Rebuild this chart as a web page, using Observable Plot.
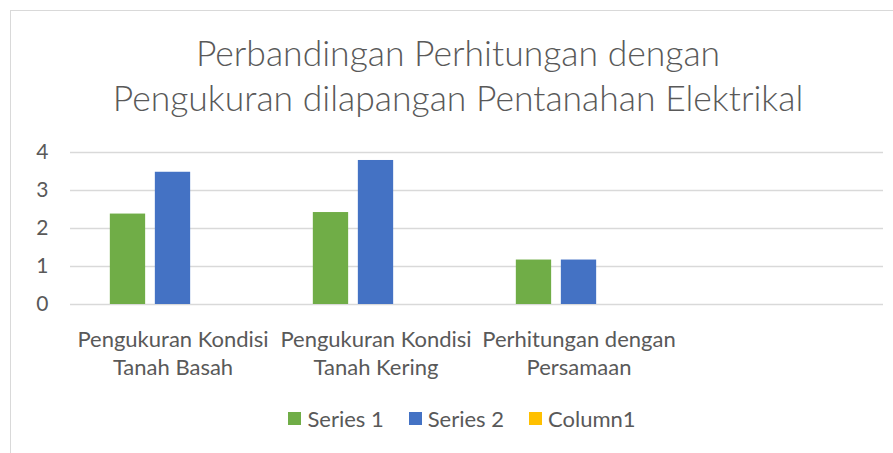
<!DOCTYPE html>
<html>
<head>
<meta charset="utf-8">
<script src="https://cdn.jsdelivr.net/npm/d3@7"></script>
<script src="https://cdn.jsdelivr.net/npm/@observablehq/plot@0.6"></script>
<style>
  html, body { margin: 0; padding: 0; background: #fff; }
  #wrap { position: relative; width: 893px; height: 453px; overflow: hidden; font-family: Lato, "Open Sans", sans-serif; color: #595959; }
  #frame { position: absolute; left: 10px; top: 10px; width: 900px; height: 460px; border-left: 1.5px solid #d9d9d9; border-top: 1.5px solid #d9d9d9; box-sizing: border-box; }
  #title { position: absolute; left: 0; width: 916px; top: 30px; text-align: center; font-size: 35.5px; font-weight: 300; line-height: 45px; }
  #chart { position: absolute; left: 0; top: 130px; }
  #legend { position: absolute; left: 0; width: 924px; top: 403px; height: 30px; display: flex; align-items: center; justify-content: center; gap: 25px; font-size: 22px; }
  #legend .item { display: flex; align-items: center; gap: 6px; }
  #legend .sw { width: 13px; height: 13px; display: inline-block; }
</style>
</head>
<body>
<div id="wrap">
  <div id="frame"></div>
  <div id="title">Perbandingan Perhitungan dengan<br>Pengukuran dilapangan Pentanahan Elektrikal</div>
  <div id="chart"></div>
  <div id="legend"></div>
</div>
<script>
const categories = ["Pengukuran Kondisi\nTanah Basah", "Pengukuran Kondisi\nTanah Kering", "Perhitungan dengan\nPersamaan", ""];
const seriesNames = ["Series 1", "Series 2", "Column1"];
const series1 = [2.38, 2.42, 1.17, null];
const series2 = [3.48, 3.79, 1.17, null];
const column1 = [null, null, null, null];
const seriesColors = ["#70AD47", "#4472C4", "#FFC000"];
const yTicks = [0, 1, 2, 3, 4];

const W = 893, H = 260, mL = 70, mR = 10, mT = 22, mB = 86;
const step = (W - mL - mR) / categories.length;
const slot = step * 0.2215;
const barW = slot * 0.79;

const allSeries = [series1, series2, column1];
const barMarks = allSeries.map((vals, i) => {
  const data = categories.map((c, j) => ({cat: c, value: vals[j]})).filter(d => d.value != null);
  const off = (i - 1) * slot;
  return Plot.barY(data, {
    x: "cat", y: "value", fill: seriesColors[i],
    insetLeft: step / 2 + off - barW / 2,
    insetRight: step / 2 - off - barW / 2
  });
});

const chart = Plot.plot({
  width: W, height: H,
  marginLeft: mL, marginRight: mR, marginTop: mT, marginBottom: mB,
  style: {fontFamily: "Lato, 'Open Sans', sans-serif", fontSize: "22px", color: "#595959", background: "transparent", overflow: "visible"},
  x: {domain: categories, padding: 0, axis: null},
  y: {domain: [0, 4], axis: null},
  marks: [
    Plot.ruleY(yTicks, {stroke: "#d9d9d9", strokeWidth: 1.5}),
    ...barMarks,
    Plot.axisY(yTicks, {tickSize: 0, tickPadding: 22, fontSize: 21, fill: "#595959", label: null, tickFormat: d => String(d)}),
    Plot.axisX({tickSize: 0, tickPadding: 22, fontSize: 22, fill: "#595959", label: null, lineHeight: 1.3})
  ]
});
document.getElementById("chart").appendChild(chart);

const legend = document.getElementById("legend");
seriesNames.forEach((n, i) => {
  const item = document.createElement("div");
  item.className = "item";
  const sw = document.createElement("span");
  sw.className = "sw";
  sw.style.background = seriesColors[i];
  const t = document.createElement("span");
  t.textContent = n;
  item.appendChild(sw); item.appendChild(t);
  legend.appendChild(item);
});
</script>
</body>
</html>
